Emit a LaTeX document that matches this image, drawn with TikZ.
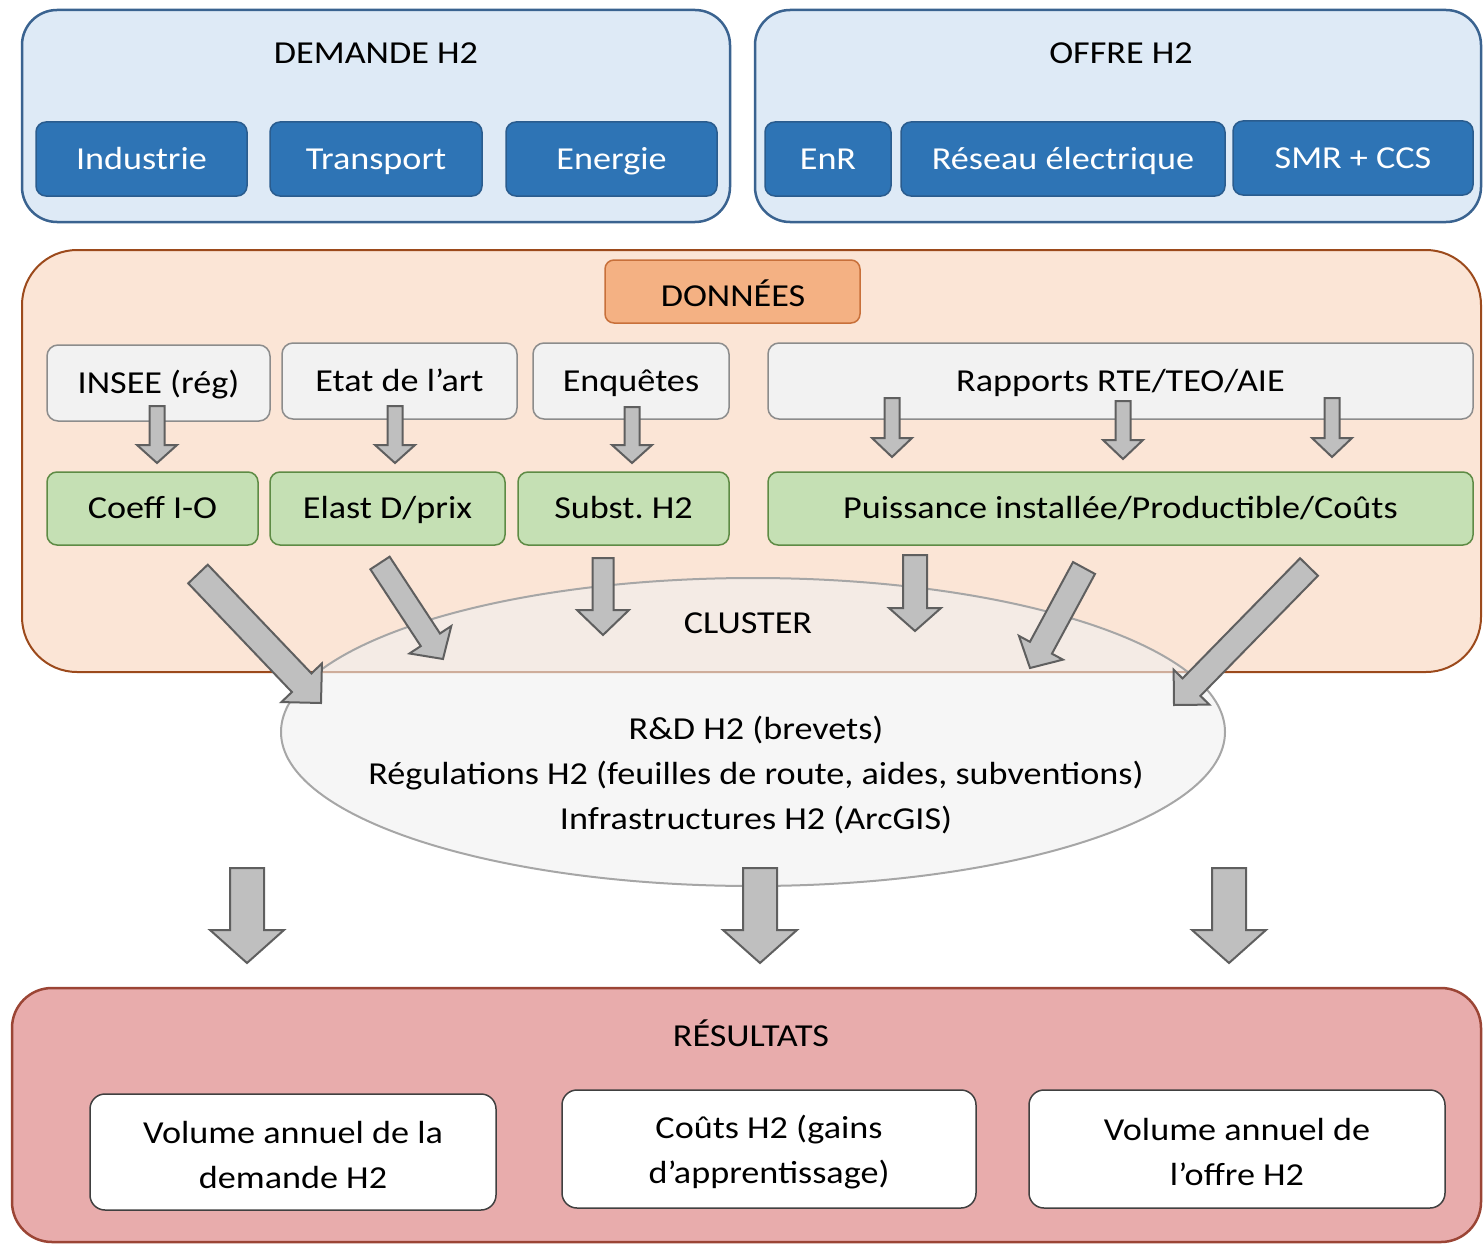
\documentclass[tikz,border=0pt]{standalone}
\usepackage{fontspec}
\setmainfont{Carlito}[FakeStretch=1.13]
\usetikzlibrary{calc,shapes.geometric}
\frenchspacing
\definecolor{demfill}{HTML}{DEEAF6}
\definecolor{demline}{HTML}{3A6390}
\definecolor{bluefill}{HTML}{2E74B5}
\definecolor{blueline}{HTML}{2A5C8E}
\definecolor{donfill}{HTML}{FBE5D6}
\definecolor{donline}{HTML}{9C4A1C}
\definecolor{lblfill}{HTML}{F4B183}
\definecolor{lblline}{HTML}{C8703A}
\definecolor{grayfill}{HTML}{F2F2F2}
\definecolor{grayline}{HTML}{8C8C8C}
\definecolor{grnfill}{HTML}{C5E0B4}
\definecolor{grnline}{HTML}{5E8B45}
\definecolor{arrfill}{HTML}{BFBFBF}
\definecolor{arrline}{HTML}{5F5F5F}
\definecolor{ellfill}{HTML}{F0F0F0}
\definecolor{ellline}{HTML}{A6A6A6}
\definecolor{resfill}{HTML}{E8ACAC}
\definecolor{resline}{HTML}{9B4535}
\definecolor{whline}{HTML}{404040}
\newcommand\fsz{\fontsize{32}{45}\selectfont}
% block arrow: #1 tail, #2 tip, #3 half shaft, #4 half head, #5 head length
\newcommand\blockarrow[5]{%
  \coordinate (bah) at ($(#2)!#5!(#1)$);
  \draw[blockarr] ($(#1)!#3!90:(#2)$) -- ($(bah)!#3!90:(#2)$) -- ($(bah)!#4!90:(#2)$) -- (#2)
    -- ($(bah)!#4!-90:(#2)$) -- ($(bah)!#3!-90:(#2)$) -- ($(#1)!#3!-90:(#2)$) -- cycle;}
\begin{document}
\begin{tikzpicture}[x=1pt,y=-1pt,
  every node/.style={font=\fsz, inner sep=0pt},
  txt/.style={text height=28pt, text depth=8pt},
  demouter/.style={rectangle, draw=demline, fill=demfill, line width=2.5pt, rounded corners=35pt},
  bluebox/.style={rectangle, draw=blueline, fill=bluefill, line width=1.5pt, rounded corners=10pt, text=white, txt},
  donouter/.style={rectangle, draw=donline, fill=donfill, line width=2pt, rounded corners=55pt},
  lblbox/.style={rectangle, draw=lblline, fill=lblfill, line width=1.5pt, rounded corners=9pt},
  graybox/.style={rectangle, draw=grayline, fill=grayfill, line width=1.5pt, rounded corners=11pt, txt},
  grnbox/.style={rectangle, draw=grnline, fill=grnfill, line width=1.5pt, rounded corners=10pt, txt},
  resouter/.style={rectangle, draw=resline, fill=resfill, line width=2.5pt, rounded corners=40pt},
  whitebox/.style={rectangle, draw=whline, fill=white, line width=1.5pt, rounded corners=15pt, align=center},
  plain/.style={txt},
  blockarr/.style={fill=arrfill, draw=arrline, line width=2pt, line join=miter},
]
\useasboundingbox (0,0) rectangle (1483,1244);

% ---------- DEMANDE ----------
\node[demouter, minimum width=708, minimum height=212] (dem) at (376,116) {};
\node[plain] (demt) at (376,54) {DEMANDE H2};
\node[bluebox, minimum width=211, minimum height=74] (ind) at (141.5,159) {Industrie};
\node[bluebox, minimum width=212, minimum height=74] (tra) at (376,159) {Transport};
\node[bluebox, minimum width=211, minimum height=74] (ene) at (611.5,159) {Energie};

% ---------- OFFRE ----------
\node[demouter, minimum width=726, minimum height=212] (off) at (1118,116) {};
\node[plain] (offt) at (1121,54) {OFFRE H2};
\node[bluebox, minimum width=126, minimum height=74] (enr) at (828,159) {EnR};
\node[bluebox, minimum width=324, minimum height=74] (res) at (1063,159) {Réseau électrique};
\node[bluebox, minimum width=240, minimum height=74] (smr) at (1353,158) {SMR + CCS};

% ---------- DONNEES ----------
\node[donouter, minimum width=1459, minimum height=422] (don) at (751.5,461) {};
\node[lblbox, minimum width=255, minimum height=63] (donl) at (732.5,291.5) {};
\node[plain] (donlt) at (733,296) {DONNÉES};

\node[graybox, minimum width=223, minimum height=76] (insee) at (158.5,383) {INSEE (rég)};
\node[graybox, minimum width=235, minimum height=76] (etat) at (399.5,381) {Etat de l’art};
\node[graybox, minimum width=196, minimum height=76] (enq) at (631,381) {Enquêtes};
\node[graybox, minimum width=705, minimum height=76] (rap) at (1120.5,381) {Rapports RTE/TEO/AIE};

\node[grnbox, minimum width=211, minimum height=73] (coef) at (152.5,508.5) {Coeff I-O};
\node[grnbox, minimum width=235, minimum height=73] (elas) at (387.5,508.5) {Elast D/prix};
\node[grnbox, minimum width=211, minimum height=73] (subs) at (623.5,508.5) {Subst. H2};
\node[grnbox, minimum width=705, minimum height=73] (puis) at (1120.5,508.5) {Puissance installée/Productible/Coûts};

% small arrows
\coordinate (s1a) at (157,406);  \coordinate (s1b) at (157,463);
\coordinate (s2a) at (395,406);  \coordinate (s2b) at (395,463);
\coordinate (s3a) at (632,407);  \coordinate (s3b) at (632,463);
\coordinate (s4a) at (892,398);  \coordinate (s4b) at (892,457);
\coordinate (s5a) at (1123,401); \coordinate (s5b) at (1123,459);
\coordinate (s6a) at (1332,398); \coordinate (s6b) at (1332,457);
\blockarrow{s1a}{s1b}{7.5pt}{20pt}{18pt}
\blockarrow{s2a}{s2b}{7.5pt}{20pt}{18pt}
\blockarrow{s3a}{s3b}{7.5pt}{20pt}{18pt}
\blockarrow{s4a}{s4b}{7.5pt}{20pt}{19pt}
\blockarrow{s5a}{s5b}{7.5pt}{20pt}{19pt}
\blockarrow{s6a}{s6b}{7.5pt}{20pt}{19pt}

% ---------- CLUSTER ----------
\node[ellipse, draw=ellline, line width=2pt, fill=ellfill, fill opacity=0.6, minimum width=944, minimum height=308] (clu) at (753,732) {};
\node[plain] (clut) at (748,623) {CLUSTER};
\node[align=center] (clutx) at (756,775) {R\&D H2 (brevets)\\Régulations H2 (feuilles de route, aides, subventions)\\Infrastructures H2 (ArcGIS)};

% cluster arrows
\coordinate (c1a) at (198,574);  \coordinate (c1b) at (321,703);
\coordinate (c2a) at (380,563);  \coordinate (c2b) at (443,659);
\coordinate (c3a) at (603,558);  \coordinate (c3b) at (603,635);
\coordinate (c4a) at (915,555);  \coordinate (c4b) at (915,631);
\coordinate (c5a) at (1084,568); \coordinate (c5b) at (1030,668);
\coordinate (c6a) at (1309,567); \coordinate (c6b) at (1174,705);
\blockarrow{c1a}{c1b}{13.5pt}{28pt}{28pt}
\blockarrow{c2a}{c2b}{11.5pt}{25pt}{23pt}
\blockarrow{c3a}{c3b}{10.5pt}{26pt}{25pt}
\blockarrow{c4a}{c4b}{12pt}{26pt}{23pt}
\blockarrow{c5a}{c5b}{12.5pt}{25pt}{23pt}
\blockarrow{c6a}{c6b}{12.5pt}{25pt}{25pt}

% bottom arrows
\coordinate (b1a) at (247,868);  \coordinate (b1b) at (247,963);
\coordinate (b2a) at (760,868);  \coordinate (b2b) at (760,963);
\coordinate (b3a) at (1229,868); \coordinate (b3b) at (1229,963);
\blockarrow{b1a}{b1b}{17pt}{37pt}{33pt}
\blockarrow{b2a}{b2b}{17pt}{37pt}{33pt}
\blockarrow{b3a}{b3b}{17pt}{37pt}{33pt}

% ---------- RESULTATS ----------
\node[resouter, minimum width=1469, minimum height=254] (resu) at (746.5,1115) {};
\node[plain] (resut) at (751,1036) {RÉSULTATS};
\node[whitebox, minimum width=406, minimum height=116] (r1) at (293,1152) {};
\node[align=center] (r1t) at (293,1155) {Volume annuel de la\\demande H2};
\node[whitebox, minimum width=414, minimum height=118] (r2) at (769,1149) {};
\node[align=center] (r2t) at (769,1152) {Coûts H2 (gains\\d’apprentissage)};
\node[whitebox, minimum width=416, minimum height=118] (r3) at (1237,1149) {};
\node[align=center] (r3t) at (1237,1152) {Volume annuel de\\l’offre H2};
\end{tikzpicture}
\end{document}
